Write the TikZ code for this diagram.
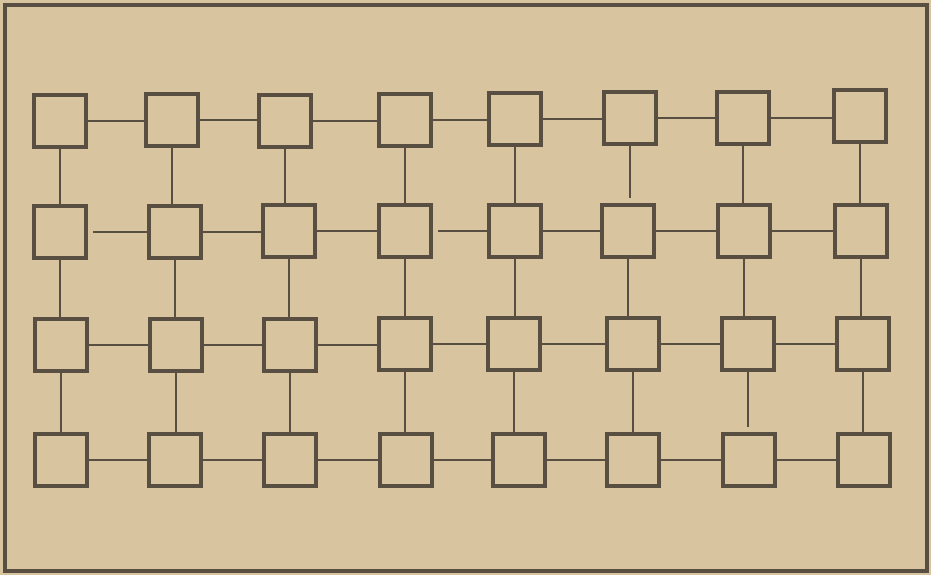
\documentclass[tikz,border=0pt]{standalone}
\usepackage{tikz}
\definecolor{paper}{RGB}{217,196,160}
\definecolor{ink}{RGB}{88,78,66}
\begin{document}
\begin{tikzpicture}[x=0.75pt,y=-0.75pt,
  cell/.style={draw=ink,line width=2.9pt,rectangle,minimum size=39pt,inner sep=0pt},
  link/.style={draw=ink,line width=1.7pt},
  frame/.style={draw=ink,line width=2.6pt}]
\fill[paper] (0,0) rectangle (931,575);
\useasboundingbox (0,0) rectangle (931,575);
\draw[frame] (5,5) rectangle (927,571);
% row 1
\foreach \c/\x/\y in {1/60/121,2/172/120,3/285/121,4/405/120,5/515/119,6/630/118,7/743/118,8/860/116}
  \node[cell] (a\c) at (\x,\y) {};
% row 2
\foreach \c/\x/\y in {1/60/232,2/175/232,3/289/231,4/405/231,5/515/231,6/628/231,7/744/231,8/861/231}
  \node[cell] (b\c) at (\x,\y) {};
% row 3
\foreach \c/\x/\y in {1/61/345,2/176/345,3/290/345,4/405/344,5/514/344,6/633/344,7/748/344,8/863/344}
  \node[cell] (c\c) at (\x,\y) {};
% row 4
\foreach \c/\x/\y in {1/61/460,2/175/460,3/290/460,4/406/460,5/519/460,6/633/460,7/749/460,8/864/460}
  \node[cell] (d\c) at (\x,\y) {};
% horizontal links
\foreach \c [evaluate=\c as \n using int(\c+1)] in {1,...,7}{
  \draw[link] (a\c.east) -- (a\c.east -| a\n.west);
  \draw[link] (c\c.east) -- (c\c.east -| c\n.west);
  \draw[link] (d\c.east) -- (d\c.east -| d\n.west);
}
\foreach \c [evaluate=\c as \n using int(\c+1)] in {2,3,5,6,7}{
  \draw[link] (b\c.east) -- (b\c.east -| b\n.west);
}
\draw[link,shorten <=4pt] (b1.east) -- (b1.east -| b2.west);
\draw[link,shorten <=4pt] (b4.east) -- (b4.east -| b5.west);
% vertical links
\foreach \c in {1,...,8}{
  \draw[link] (b\c.south) -- (b\c.south |- c\c.north);
}
\foreach \c in {1,2,3,4,5,7,8}{
  \draw[link] (a\c.south) -- (a\c.south |- b\c.north);
}
\foreach \c in {1,2,3,4,5,6,8}{
  \draw[link] (c\c.south) -- (c\c.south |- d\c.north);
}
\draw[link,shorten >=4pt] (a6.south) -- (a6.south |- b6.north);
\draw[link,shorten >=4pt] (c7.south) -- (c7.south |- d7.north);
\end{tikzpicture}
\end{document}
